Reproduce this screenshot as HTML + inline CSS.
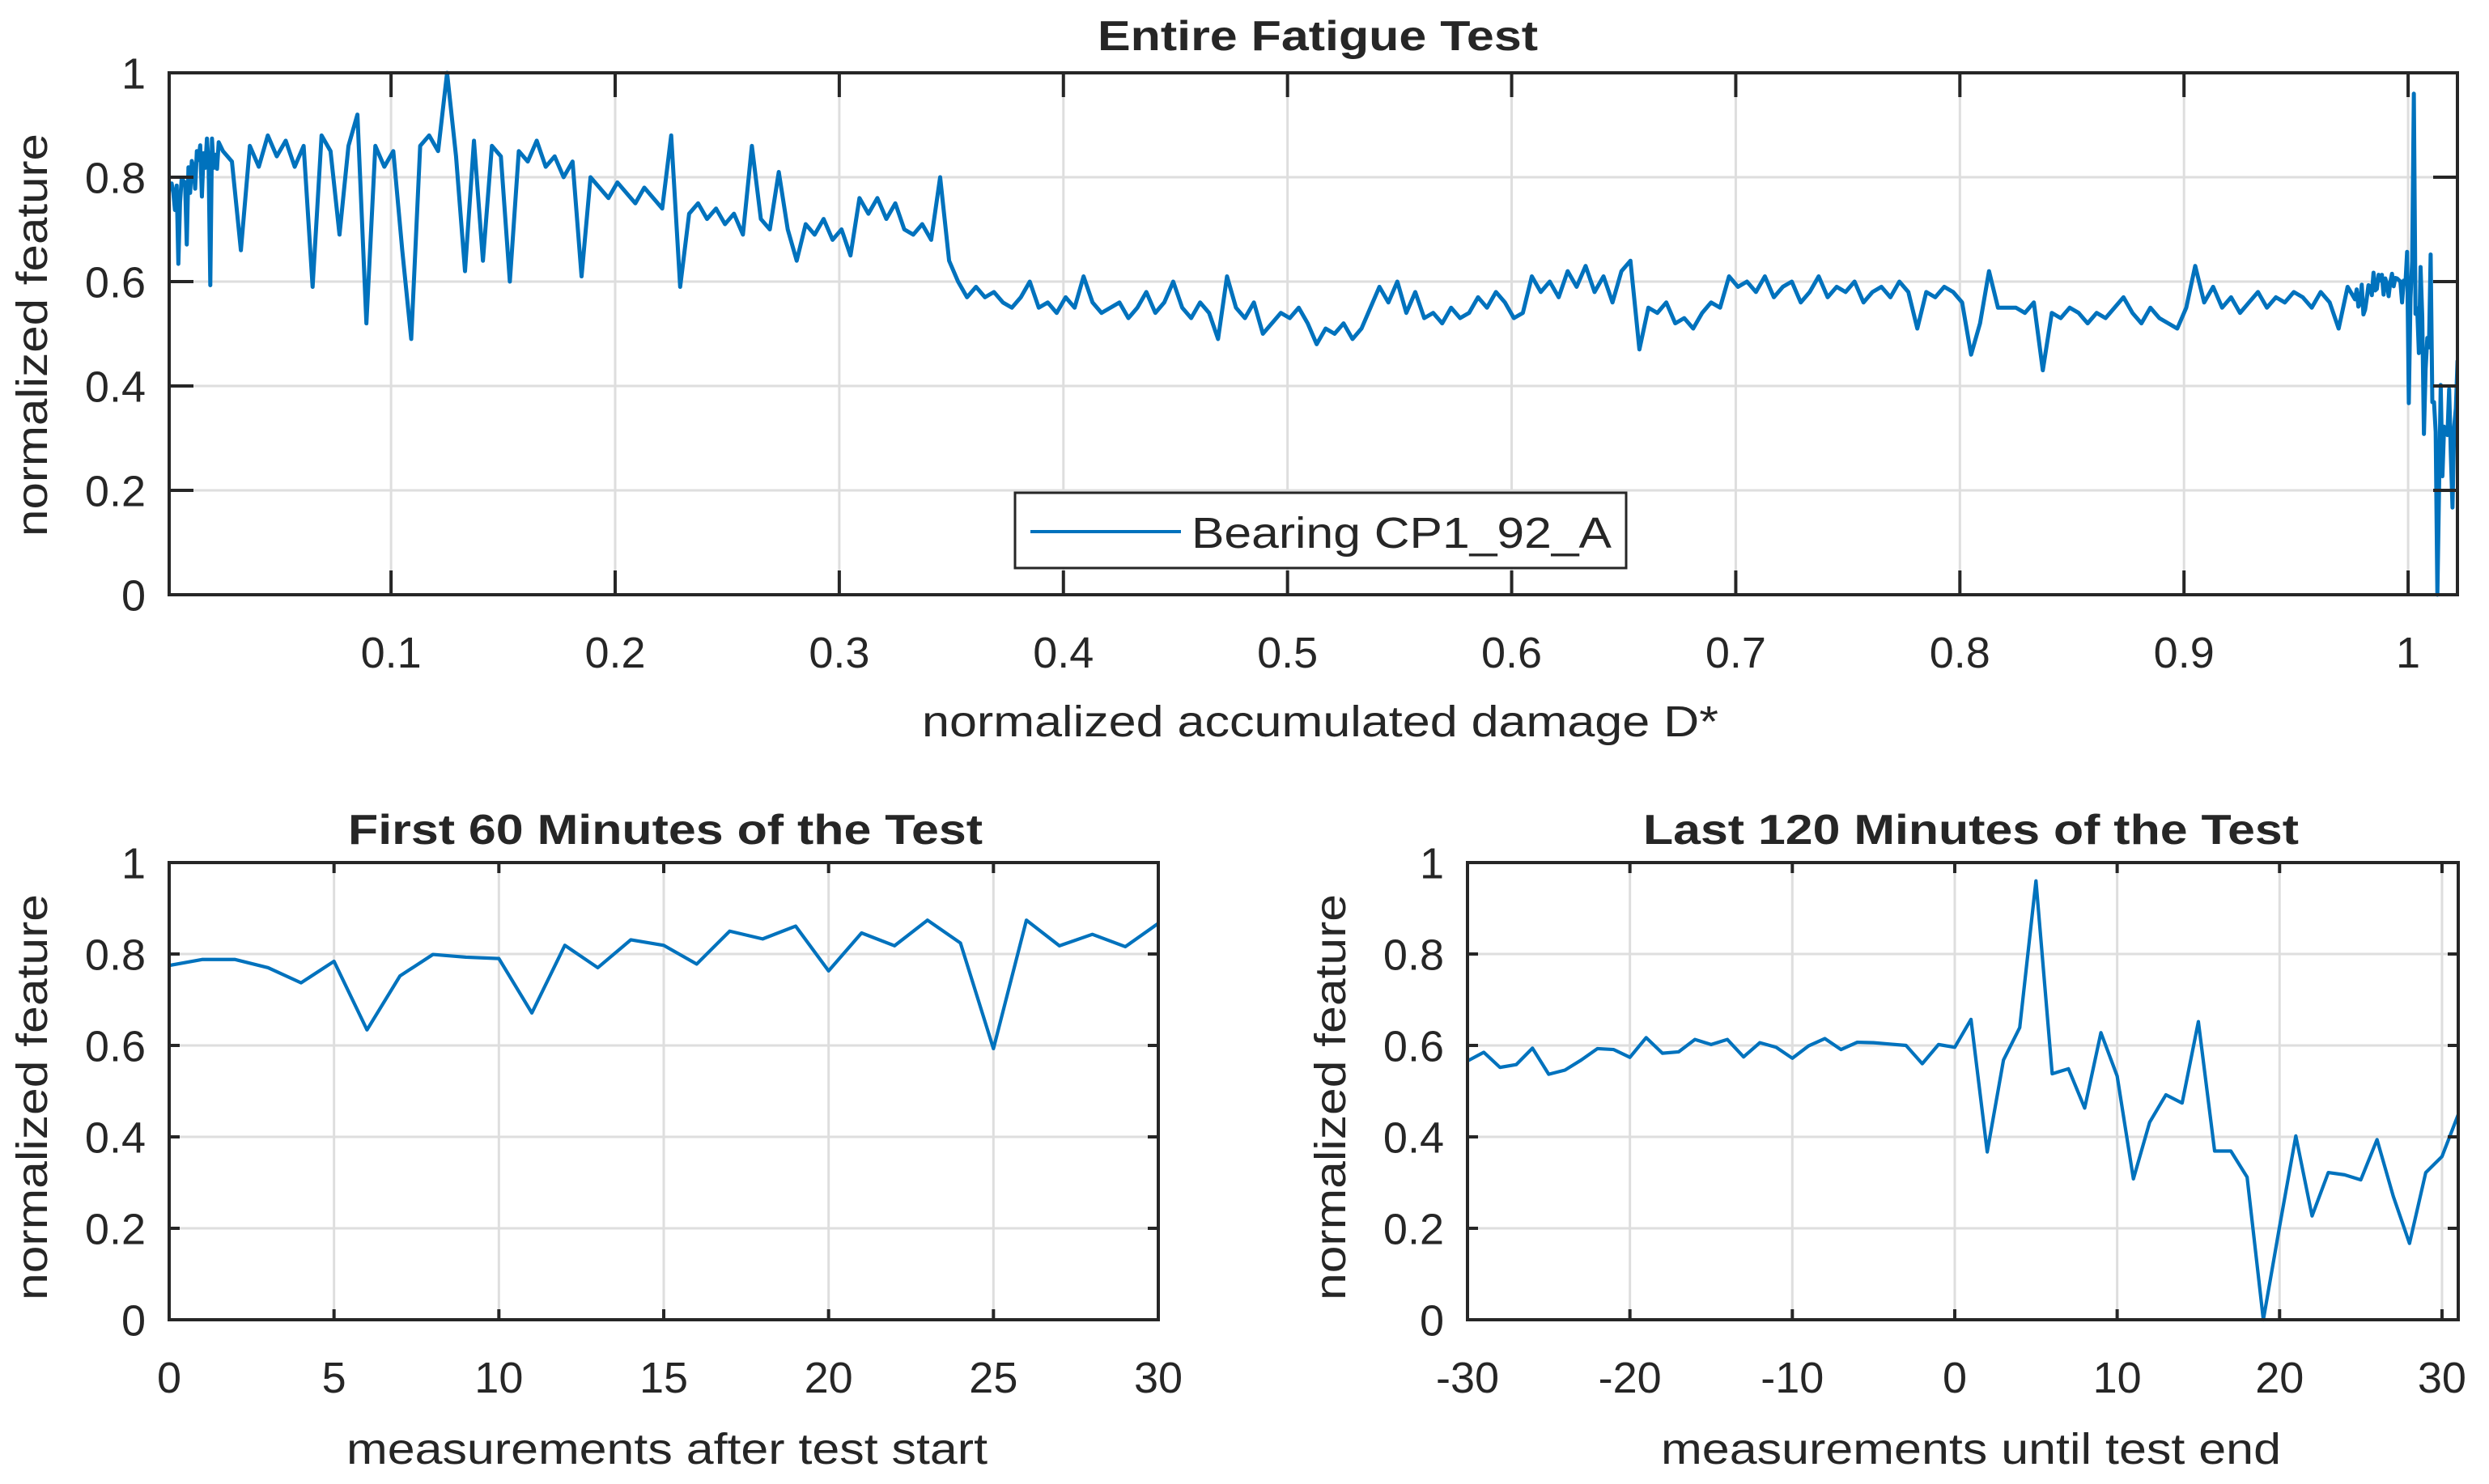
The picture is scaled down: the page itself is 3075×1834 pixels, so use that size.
<!DOCTYPE html>
<html><head><meta charset="utf-8"><style>
html,body{margin:0;padding:0;background:#fff;}
svg{display:block;}
text{font-family:"Liberation Sans",Arial,sans-serif;fill:#262626;}
</style></head><body>
<svg id="fig" width="3075" height="1834" viewBox="0 0 3075 1834" xmlns="http://www.w3.org/2000/svg"></svg>
<script>
// ---- data: first 60 minutes ----
const firstX = [0,1,2,3,4,5,6,7,8,9,10,11,12,13,14,15,16,17,18,19,20,21,22,23,24,25,26,27,28,29,30];
const firstV = [0.775,0.788,0.788,0.77,0.737,0.784,0.634,0.752,0.799,0.793,0.79,0.671,0.819,0.77,0.831,0.819,0.778,0.85,0.833,0.861,0.763,0.846,0.818,0.874,0.824,0.593,0.874,0.818,0.843,0.816,0.867];
// ---- data: last 120 minutes ----
const lastX = [-30,-29,-28,-27,-26,-25,-24,-23,-22,-21,-20,-19,-18,-17,-16,-15,-14,-13,-12,-11,-10,-9,-8,-7,-6,-5,-4,-3,-2,-1,0,1,2,3,4,5,6,7,8,9,10,11,12,13,14,15,16,17,18,19,20,21,22,23,24,25,26,27,28,29,30,31];
const lastV = [0.566,0.585,0.552,0.558,0.594,0.537,0.546,0.568,0.593,0.591,0.574,0.617,0.583,0.586,0.613,0.602,0.613,0.575,0.606,0.596,0.572,0.599,0.615,0.591,0.607,0.606,0.603,0.6,0.56,0.602,0.596,0.657,0.367,0.568,0.639,0.96,0.538,0.549,0.463,0.628,0.533,0.308,0.432,0.492,0.474,0.652,0.369,0.369,0.312,0,0.204,0.402,0.227,0.322,0.317,0.306,0.394,0.27,0.167,0.322,0.357,0.449];
// ---- data: middle of the fatigue test (uniform damage grid) ----
const midStartD = 0.025;
const midStepD = 0.004;
const midV = [
0.85,0.83,0.66,0.86,0.82,0.88,0.84,0.87,0.82,0.86,
0.59,0.88,0.85,0.69,0.86,0.92,0.52,0.86,0.82,0.85,
0.66,0.49,0.86,0.88,0.85,1.0,0.84,0.62,0.87,0.64,
0.86,0.84,0.60,0.85,0.83,0.87,0.82,0.84,0.80,0.83,
0.61,0.80,0.78,0.76,0.79,0.77,0.75,0.78,0.76,0.74,
0.88,0.59,0.73,0.75,0.72,0.74,0.71,0.73,0.69,0.86,
0.72,0.70,0.81,0.70,0.64,0.71,0.69,0.72,0.68,0.70,
0.65,0.76,0.73,0.76,0.72,0.75,0.70,0.69,0.71,0.68,
0.80,0.64,0.60,0.57,0.59,0.57,0.58,0.56,0.55,0.57,
0.60,0.55,0.56,0.54,0.57,0.55,0.61,0.56,0.54,0.55,
0.56,0.53,0.55,0.58,0.54,0.56,0.60,0.55,0.53,0.56,
0.54,0.49,0.61,0.55,0.53,0.56,0.50,0.52,0.54,0.53,
0.55,0.52,0.48,0.51,0.50,0.52,0.49,0.51,0.55,0.59,
0.56,0.60,0.54,0.58,0.53,0.54,0.52,0.55,0.53,0.54,
0.57,0.55,0.58,0.56,0.53,0.54,0.61,0.58,0.60,0.57,
0.62,0.59,0.63,0.58,0.61,0.56,0.62,0.64,0.47,0.55,
0.54,0.56,0.52,0.53,0.51,0.54,0.56,0.55,0.61,0.59,
0.60,0.58,0.61,0.57,0.59,0.60,0.56,0.58,0.61,0.57,
0.59,0.58,0.60,0.56,0.58,0.59,0.57,0.60,0.58,0.51,
0.58,0.57,0.59,0.58,0.56,0.46,0.52,0.62,0.55,0.55,
0.55,0.54,0.56,0.43,0.54,0.53,0.55,0.54,0.52,0.54,
0.53,0.55,0.57,0.54,0.52,0.55,0.53,0.52,0.51,0.55,
0.63,0.56,0.59,0.55,0.57,0.54,0.56,0.58,0.55,0.57,
0.56,0.58,0.57,0.55,0.58,0.56,0.51,0.59];
const firstStartD = 0.0006;
const tailStartD = 0.9763;
const measStepD = 0.00075;
// ---- tick labels ----
const topXTicks = [0.1,0.2,0.3,0.4,0.5,0.6,0.7,0.8,0.9,1];
const topXTickLabels = ["0.1","0.2","0.3","0.4","0.5","0.6","0.7","0.8","0.9","1"];
const yTicks = [0,0.2,0.4,0.6,0.8,1];
const yTickLabels = ["0","0.2","0.4","0.6","0.8","1"];
const firstXTicks = [0,5,10,15,20,25,30];
const lastXTicks = [-30,-20,-10,0,10,20,30];

const NS = "http://www.w3.org/2000/svg";
const svgRoot = document.getElementById('fig');
function mk(tag, attrs, parent){
  const e = document.createElementNS(NS, tag);
  for (const k in attrs) e.setAttribute(k, attrs[k]);
  (parent||svgRoot).appendChild(e);
  return e;
}

function drawAxes(o){
  const g = mk('g', {});
  
  
  const sx = v => o.L + (v - o.xmin) / (o.xmax - o.xmin) * (o.R - o.L);
  const sy = v => o.B - (v - 0) / (1 - 0) * (o.B - o.T);
  o.xticks.forEach(t => {
    const l = mk('line', {x1:sx(t), x2:sx(t), y1:o.T, y2:o.B, stroke:'#dedede', 'stroke-width':3}, g);
    
    
  });
  yTicks.forEach(t => {
    const l = mk('line', {x1:o.L, x2:o.R, y1:sy(t), y2:sy(t), stroke:'#dedede', 'stroke-width':3}, g);
    
    
  });
  let d = '';
  o.series.forEach((p, i) => { d += (i ? 'L' : 'M') + sx(p[0]).toFixed(2) + ' ' + sy(p[1]).toFixed(2); });
  const cp = 'clip-' + o.name;
  const cl = mk('clipPath', {id: cp}, g);
  mk('rect', {x:o.L, y:o.T-3, width:o.R-o.L, height:o.B-o.T+6}, cl);
  const path = mk('path', {d:d, fill:'none', stroke:'#0072BD', 'stroke-width':o.lw, 'stroke-linejoin':'round', 'clip-path':'url(#'+cp+')'}, g);
  
  
  o.xticks.forEach((t, i) => {
    mk('line', {x1:sx(t), x2:sx(t), y1:o.B, y2:o.B - o.tl, stroke:'#262626', 'stroke-width':4}, g);
    mk('line', {x1:sx(t), x2:sx(t), y1:o.T, y2:o.T + o.tl, stroke:'#262626', 'stroke-width':4}, g);
    const tx = mk('text', {x:sx(t), y:o.B + o.xlabOff, 'font-size':o.fs, 'text-anchor':'middle'}, g);
    tx.textContent = o.xlabels[i];
    
    
  });
  yTicks.forEach((t, i) => {
    mk('line', {x1:o.L, x2:o.L + o.tl, y1:sy(t), y2:sy(t), stroke:'#262626', 'stroke-width':4}, g);
    mk('line', {x1:o.R, x2:o.R - o.tl, y1:sy(t), y2:sy(t), stroke:'#262626', 'stroke-width':4}, g);
    const tx = mk('text', {x:o.L - o.ylabOff, y:sy(t) + o.fs*0.36, 'font-size':o.fs, 'text-anchor':'end'}, g);
    tx.textContent = yTickLabels[i];
    
    
  });
  const box = mk('rect', {x:o.L, y:o.T, width:o.R-o.L, height:o.B-o.T, fill:'none', stroke:'#262626', 'stroke-width':4}, g);
  
  
  const ti = mk('text', {x:o.title[1], y:o.title[2], 'font-size':o.title[4], 'font-weight':'bold', 'text-anchor':'middle', fill:'#000', textLength:o.title[3], lengthAdjust:'spacingAndGlyphs'}, g);
  ti.textContent = o.title[0];
  
  
  const xl = mk('text', {x:o.xlab[1], y:o.xlab[2], 'font-size':o.xlab[4], 'text-anchor':'middle', textLength:o.xlab[3], lengthAdjust:'spacingAndGlyphs'}, g);
  xl.textContent = o.xlab[0];
  
  
  const yl = mk('text', {x:0, y:0, 'font-size':o.ylab[4], 'text-anchor':'middle', textLength:o.ylab[3], lengthAdjust:'spacingAndGlyphs', transform:'translate('+o.ylab[1]+','+o.ylab[2]+') rotate(-90)'}, g);
  yl.textContent = 'normalized feature';
  
  
  return {sx, sy, g};
}

const fullSeries = [];
firstV.forEach((v, i) => fullSeries.push([firstStartD + firstX[i] * measStepD, v]));
midV.forEach((v, i) => fullSeries.push([midStartD + i * midStepD, v]));
lastV.forEach((v, i) => fullSeries.push([tailStartD + (lastX[i] - lastX[0]) * measStepD, v]));

const topChart = drawAxes({name:'entire-test-chart', seriesName:'bearing-series-line', L:209, R:3036, T:90, B:735, xmin:0.001, xmax:1.022,
  xticks:topXTicks, xlabels:topXTickLabels, series:fullSeries, tl:30, fs:54, xlabOff:90, ylabOff:29, lw:5,
  title:['Entire Fatigue Test', 1628, 62, 544, 52],
  xlab:['normalized accumulated damage D*', 1631, 910, 984, 54],
  ylab:['', 58, 414, 498, 54]});

drawAxes({name:'first-60-minutes-chart', seriesName:'first-60-series-line', L:209, R:1431, T:1066, B:1631, xmin:0, xmax:30,
  xticks:firstXTicks, xlabels:firstXTicks.map(String), series:firstV.map((v,i)=>[firstX[i], v]), tl:13, fs:54, xlabOff:90, ylabOff:29, lw:4.2,
  title:['First 60 Minutes of the Test', 822, 1043, 784, 52],
  xlab:['measurements after test start', 824, 1809, 792, 54],
  ylab:['', 58, 1356, 502, 54]});

drawAxes({name:'last-120-minutes-chart', seriesName:'last-120-series-line', L:1813, R:3037, T:1066, B:1631, xmin:-30, xmax:31,
  xticks:lastXTicks, xlabels:lastXTicks.map(String), series:lastV.map((v,i)=>[lastX[i], v]), tl:13, fs:54, xlabOff:90, ylabOff:29, lw:4.2,
  title:['Last 120 Minutes of the Test', 2435, 1043, 810, 52],
  xlab:['measurements until test end', 2435, 1809, 766, 54],
  ylab:['', 1662, 1356, 502, 54]});

const lg = mk('g', {});


mk('rect', {x:1254, y:609, width:755, height:93, fill:'#fff', stroke:'#262626', 'stroke-width':3}, lg);
const ll = mk('line', {x1:1273, x2:1459, y1:657, y2:657, stroke:'#0072BD', 'stroke-width':4}, lg);


const lt = mk('text', {x:1472, y:677, 'font-size':54, textLength:519, lengthAdjust:'spacingAndGlyphs', fill:'#000'}, lg);
lt.textContent = 'Bearing CP1_92_A';


</script>
</body></html>
